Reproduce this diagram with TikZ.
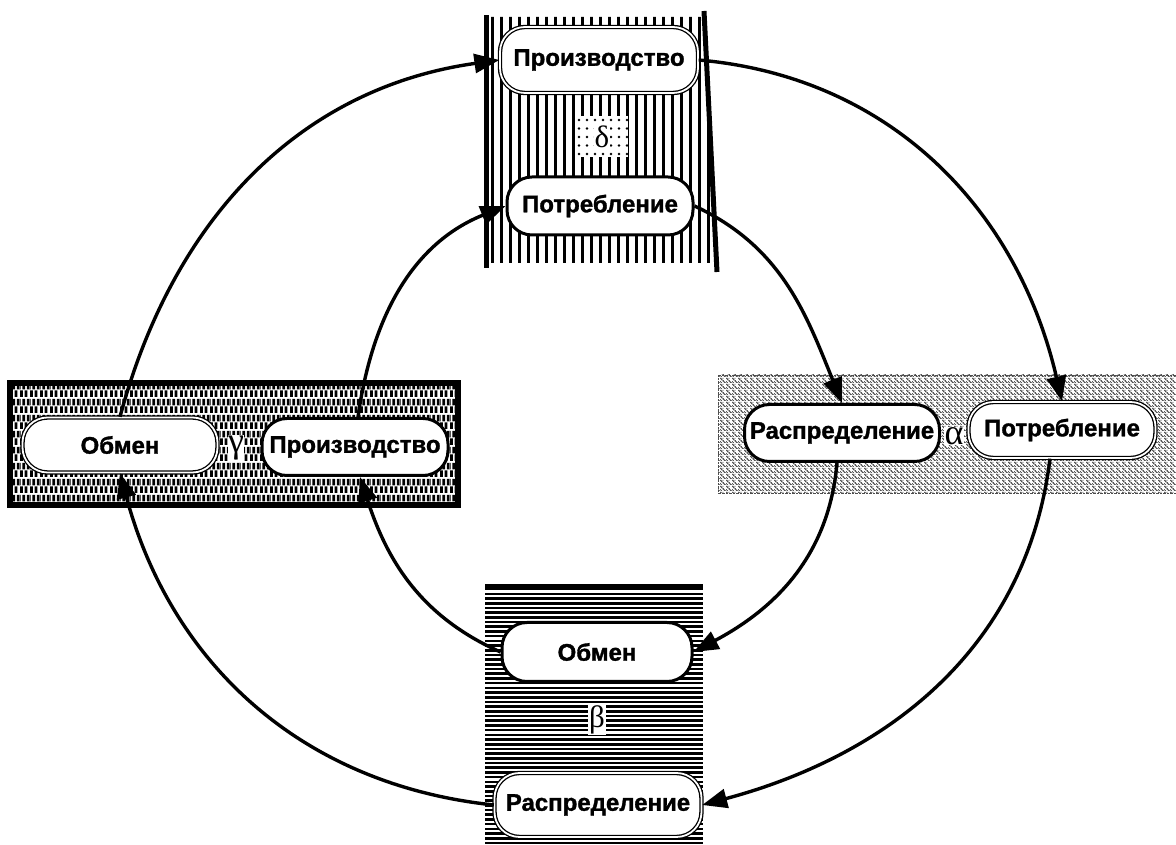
\documentclass[tikz,border=0pt]{standalone}
\usepackage{fontspec}
\setsansfont{Liberation Sans}[BoldFeatures={FakeBold=1.3}]
\newfontfamily\grk{Liberation Serif}
\usetikzlibrary{arrows.meta,patterns.meta}

\tikzdeclarepattern{
  name=gammabricks,
  type=colored,
  bottom left={(0pt,0pt)},
  top right={(10pt,16pt)},
  tile size={(10pt,16pt)},
  code={
    \fill[white] (0pt,0pt) rectangle (10pt,16pt);
    \fill[black] (0pt,0pt) rectangle (3.2pt,7pt);
    \fill[black] (5pt,0pt) rectangle (8.2pt,7pt);
    \fill[black] (2.5pt,8pt) rectangle (5.7pt,15pt);
    \fill[black] (7.5pt,8pt) rectangle (10pt,15pt);
    \fill[black] (0pt,8pt) rectangle (0.7pt,15pt);
  }
}
\tikzdeclarepattern{
  name=alphadots,
  type=colored,
  bottom left={(0pt,0pt)},
  top right={(6pt,6pt)},
  tile size={(6pt,6pt)},
  code={
    \fill[white] (0pt,0pt) rectangle (6pt,6pt);
    \fill[black] (0pt,5pt) rectangle (1.5pt,6pt);
    \fill[black] (1pt,4pt) rectangle (2.5pt,5pt);
    \fill[black] (2pt,3pt) rectangle (3pt,4pt);
    \fill[black] (3pt,2pt) rectangle (4.5pt,3pt);
    \fill[black] (4pt,1pt) rectangle (5.5pt,2pt);
    \fill[black] (5pt,0pt) rectangle (6pt,1pt);
    \fill[black] (0pt,1pt) rectangle (1pt,2pt);
    \fill[black] (3pt,5pt) rectangle (4pt,6pt);
    \fill[black] (1pt,0pt) rectangle (2pt,1pt);
  }
}

\begin{document}
\begin{tikzpicture}[x=1pt,y=1pt,
  pill/.style={rectangle, rounded corners=25pt, draw, line width=3pt, fill=white, inner sep=0pt,
    font=\sffamily\bfseries\fontsize{24}{26}\selectfont},
  dbl/.style={double=white, double distance=1.8pt, line width=1.3pt},
  flow/.style={line width=3.4pt, -{Triangle[length=25pt,width=19pt]}},
  greek/.style={font=\grk\fontsize{31}{33}\selectfont, inner sep=1pt},
  biggreek/.style={font=\grk\fontsize{36}{38}\selectfont, inner sep=0.5pt}]
\useasboundingbox (0,0) rectangle (1176,845);
\fill[white] (0,0) rectangle (1176,845);

% top delta region
\begin{scope}
\clip (488,582) -- (488,828) -- (705,828) -- (716,582) -- cycle;
\foreach \x in {492,501,...,716} \draw[line width=3pt] (\x,580) -- (\x,830);
\end{scope}
\draw[line width=5pt] (486,577) -- (486,830);
\draw[line width=5pt] (704,834) -- (717,573);

% delta box
\node[fill=white, minimum width=51pt, minimum height=41pt, inner sep=0pt] (dbox) at (602,708) {};
\foreach \i in {0,...,6} \foreach \j in {0,...,4} \fill (579+\i*8, 691+\j*8.5) circle (1.3pt);

% bottom beta region
\begin{scope}
\clip (485,0) rectangle (703,260);
\foreach \y in {2,6.7,...,258} \draw[line width=2.6pt] (485,\y) -- (703,\y);
\end{scope}
\draw[line width=4pt] (485,259) -- (703,259);

% gamma box
\fill[pattern=gammabricks] (10,340) rectangle (458,462);
\draw[line width=5.5pt] (10,340) rectangle (458,462);

% alpha box
\fill[pattern=alphadots] (718,352) rectangle (1176,470);
\draw[black!70, densely dotted] (718,352) rectangle (1176,470);

% nodes
\node[pill, dbl, minimum width=198pt, minimum height=66pt] (tProizv) at (599,785) {Производство};
\node[greek, fill=white] (delta) at (602,708) {δ};
\node[pill, minimum width=186pt, minimum height=58pt] (tPotr) at (600,639) {Потребление};
\node[pill, dbl, minimum width=195pt, minimum height=55pt] (lObmen) at (120,400) {Обмен};
\node[biggreek, fill=white] (gamma) at (236,397) {γ};
\node[pill, minimum width=186pt, minimum height=57pt] (lProizv) at (355,398) {Производство};
\node[pill, minimum width=195pt, minimum height=57pt] (rRaspr) at (842,412) {Распределение};
\node[biggreek, fill=white] (alpha) at (954,409) {α};
\node[pill, dbl, minimum width=187pt, minimum height=56pt] (rPotr) at (1062,415) {Потребление};
\node[pill, minimum width=190pt, minimum height=59pt] (bObmen) at (597,193) {Обмен};
\node[greek, fill=white] (beta) at (597,125) {β};
\node[pill, dbl, minimum width=207pt, minimum height=64pt] (bRaspr) at (598,40) {Распределение};

% outer cycle
\draw[flow] (lObmen.north) to[out=75,in=188] (tProizv.west);
\draw[flow] (tProizv.east) to[out=-5,in=103] (rPotr.north);
\draw[flow] ([xshift=-12pt]rPotr.south) to[out=-97,in=15] (bRaspr.east);
\draw[flow] (bRaspr.west) to[out=174,in=-75] (lObmen.south);
% inner cycle
\draw[flow] ([xshift=3pt]lProizv.north) to[out=82,in=202] (tPotr.west);
\draw[flow] (tPotr.east) to[out=-25,in=112] (rRaspr.north);
\draw[flow] ([xshift=-5pt]rRaspr.south) to[out=-95,in=28] (bObmen.east);
\draw[flow] (bObmen.west) to[out=156,in=-72] ([xshift=5pt]lProizv.south);
\end{tikzpicture}
\end{document}
